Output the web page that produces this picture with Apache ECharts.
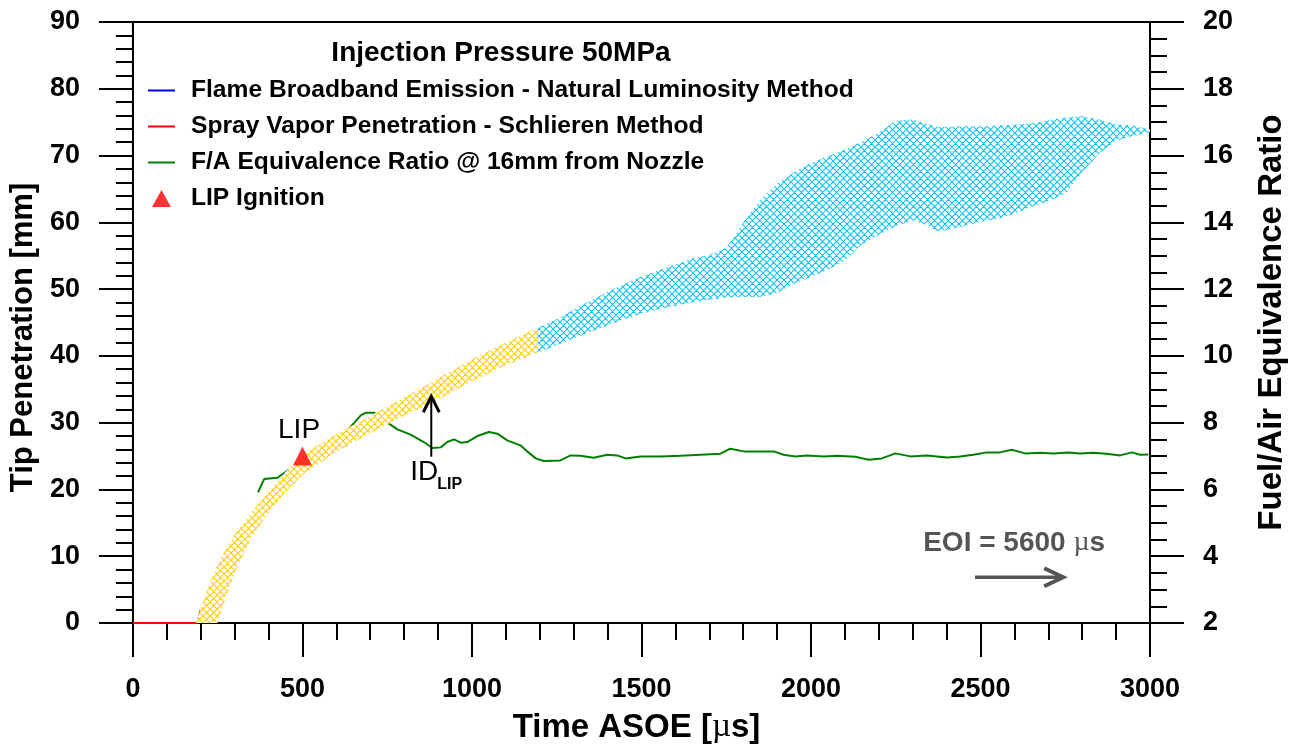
<!DOCTYPE html>
<html><head><meta charset="utf-8">
<script src="https://cdn.jsdelivr.net/npm/echarts@6/dist/echarts.min.js"></script>
<style>html,body{margin:0;padding:0;background:#fff}#c{width:1299px;height:749px}</style>
</head><body><div id="c"></div><script>
// ---------- data ----------
const sprayTime = [0, 190, 200];
const sprayMm   = [0, 0, 2];

const yellowTime  = [186, 200, 225, 250, 275, 300, 350, 400, 450, 500, 600, 700, 800, 900, 1000, 1100, 1195];
const yellowUpper = [0, 2.2, 5.8, 8.8, 11.2, 13.2, 16.6, 19.6, 22.6, 25.2, 28.3, 31.0, 33.8, 36.6, 39.5, 42.0, 44.2];
const yellowLower = [0, 0, 0, 0, 4.0, 7.5, 12.8, 16.5, 19.6, 22.2, 25.6, 28.4, 31.0, 33.4, 36.2, 38.6, 40.5];

const cyanTime  = [1195,1250,1300,1350,1400,1450,1500,1550,1600,1650,1700,1750,1780,1800,1850,1900,1950,2000,2050,2100,2150,2200,2250,2300,2340,2370,2400,2450,2500,2550,2600,2650,2700,2750,2800,2850,2900,2950,3000];
const cyanUpper = [44.2,45.5,47.0,48.3,49.6,50.8,51.9,52.8,53.7,54.6,55.1,56.2,58.3,60.0,63.3,65.8,67.5,68.9,69.9,70.9,72.1,73.4,75.2,75.4,74.8,74.3,74.3,74.4,74.4,74.5,74.6,74.8,75.3,75.7,75.9,75.4,74.7,74.5,73.9];
const cyanLower = [40.5,41.6,42.6,43.6,44.5,45.5,46.3,47.0,47.5,48.0,48.4,48.7,48.8,48.8,48.8,49.4,50.8,51.8,52.9,54.3,56.7,58.1,59.4,60.3,59.6,58.7,58.8,59.4,60.1,60.5,61.3,62.3,63.2,64.2,67.5,70.3,72.2,72.9,73.5];

const greenTime = [369,387,426,466,480,583,633,672,687,711,751,780,819,858,883,908,927,947,967,986,1016,1050,1075,1104,1143,1163,1188,1212,1261,1291,1320,1359,1399,1428,1453,1497,1556,1615,1674,1733,1762,1802,1851,1890,1919,1954,1988,2037,2077,2131,2170,2209,2249,2293,2342,2401,2440,2479,2519,2558,2592,2632,2676,2715,2759,2794,2833,2872,2912,2946,2971,2995];
const greenPhi  = [5.91,6.31,6.35,6.63,6.73,7.42,7.77,8.22,8.30,8.30,8.00,7.80,7.64,7.42,7.24,7.26,7.42,7.50,7.40,7.42,7.60,7.72,7.67,7.47,7.32,7.14,6.93,6.85,6.87,7.02,7.01,6.95,7.04,7.02,6.93,6.99,6.99,7.01,7.04,7.07,7.22,7.14,7.14,7.14,7.04,6.99,7.02,6.99,7.01,6.98,6.89,6.93,7.08,6.99,7.02,6.96,6.99,7.04,7.11,7.11,7.19,7.08,7.10,7.08,7.11,7.08,7.10,7.07,7.02,7.11,7.04,7.05];

const lipPoint = [500, 25];

const names = {
  flame: 'Flame Broadband Emission - Natural Luminosity Method',
  spray: 'Spray Vapor Penetration - Schlieren Method',
  fa: 'F/A Equivalence Ratio @ 16mm from Nozzle',
  lip: 'LIP Ignition'
};
const chartTitle = 'Injection Pressure 50MPa';
const eoiText = 'EOI = 5600 ';

// ---------- styling helpers ----------
const FONT = "'Liberation Sans', Arial, Helvetica, sans-serif";
const SERIF = "'Liberation Serif', 'DejaVu Serif', serif";
const LINE_ICON = 'path://M0,0L0.01,0L0,0.01Z M0,17L0.01,17L0,16.99Z M0,7.5L27,7.5L27,9.5L0,9.5Z';
const TRI_ICON = 'path://M0,0L0.01,0L0,0.01Z M27,0L26.99,0L27,0.01Z M4,17L23,17L13.5,0Z';

function hatch(color) {
  const s = 7, c = document.createElement('canvas');
  c.width = s; c.height = s;
  const g = c.getContext('2d');
  g.fillStyle = '#fff'; g.fillRect(0, 0, s, s);
  g.strokeStyle = color; g.lineWidth = 1.1;
  g.beginPath();
  for (let k = -1; k <= 1; k++) {
    g.moveTo(k * s - 1, -1); g.lineTo(k * s + s + 1, s + 1);
    g.moveTo(k * s + s + 1, -1); g.lineTo(k * s - 1, s + 1);
  }
  g.stroke();
  return { image: c, repeat: 'repeat' };
}

function band(times, lo, hi, fill) {
  return {
    type: 'custom', silent: true, z: 3,
    data: times.map((t, i) => [t, lo[i], hi[i]]),
    encode: { x: 0, y: [1, 2] },
    renderItem(params, api) {
      if (params.dataIndex !== 0) return null;
      const pts = [];
      for (let i = 0; i < times.length; i++) pts.push(api.coord([times[i], hi[i]]));
      for (let i = times.length - 1; i >= 0; i--) pts.push(api.coord([times[i], lo[i]]));
      return { type: 'polygon', shape: { points: pts }, style: { fill: fill, stroke: null } };
    }
  };
}

const axisCommon = {
  splitLine: { show: false },
  axisLine: { show: true, onZero: false, lineStyle: { color: '#000', width: 2 } },
  axisTick: { show: true, length: 34, lineStyle: { color: '#000', width: 2 } },
  axisLabel: { fontSize: 27, fontWeight: 'bold', color: '#000', fontFamily: FONT, margin: 53, formatter: v => String(v) }
};

const chart = echarts.init(document.getElementById('c'));
const option = {
  animation: false,
  backgroundColor: '#fff',
  grid: { left: 132, right: 149, top: 22, bottom: 124, show: true, borderColor: '#000', borderWidth: 2, backgroundColor: 'transparent' },
  legend: {
    data: [
      { name: names.flame, icon: LINE_ICON },
      { name: names.spray, icon: LINE_ICON },
      { name: names.fa, icon: LINE_ICON },
      { name: names.lip, icon: TRI_ICON }
    ],
    orient: 'vertical', left: 148, top: 78, padding: 0,
    itemWidth: 27, itemHeight: 17, itemGap: 11,
    selectedMode: false,
    textStyle: { fontSize: 24.6, fontWeight: 'bold', color: '#000', fontFamily: FONT, padding: [0, 0, 0, 11] }
  },
  xAxis: Object.assign({}, axisCommon, {
    type: 'value', min: 0, max: 3000, interval: 500,
    minorTick: { show: true, splitNumber: 5, length: 17, lineStyle: { color: '#000', width: 2 } },
    name: '{a|Time ASOE [}{b|\u00b5}{a|s]}',
    nameLocation: 'middle', nameGap: 88,
    nameTextStyle: { padding: [0, 10, 0, 0], rich: {
      a: { fontSize: 33, fontWeight: 'bold', color: '#000', fontFamily: FONT },
      b: { fontSize: 33, fontWeight: 'normal', color: '#000', fontFamily: SERIF }
    } }
  }),
  yAxis: [
    Object.assign({}, axisCommon, {
      type: 'value', min: 0, max: 90, interval: 10, position: 'left',
      minorTick: { show: true, splitNumber: 5, length: 17, lineStyle: { color: '#000', width: 2 } },
      name: 'Tip Penetration [mm]', nameLocation: 'middle', nameGap: 92, nameRotate: 90,
      nameTextStyle: { fontSize: 31, fontWeight: 'bold', color: '#000', fontFamily: FONT, padding: [0, 30, 0, 0] }
    }),
    Object.assign({}, axisCommon, {
      type: 'value', min: 2, max: 20, interval: 2, position: 'right',
      minorTick: { show: true, splitNumber: 4, length: 17, lineStyle: { color: '#000', width: 2 } },
      name: 'Fuel/Air Equivalence Ratio', nameLocation: 'middle', nameGap: 105, nameRotate: 90,
      nameTextStyle: { fontSize: 33, fontWeight: 'bold', color: '#000', fontFamily: FONT }
    })
  ],
  series: [
    { name: names.flame, type: 'line', data: [], symbol: 'none', color: '#0000ff', lineStyle: { width: 2, color: '#0000ff' } },
    { name: names.spray, type: 'line', data: sprayTime.map((t, i) => [t, sprayMm[i]]), symbol: 'none', color: '#ff0000', lineStyle: { width: 2, color: '#ff0000' }, z: 2 },
    { name: names.fa, type: 'line', yAxisIndex: 1, data: greenTime.map((t, i) => [t, greenPhi[i]]), symbol: 'none', color: '#008000', lineStyle: { width: 2, color: '#008000' }, z: 2 },
    band(yellowTime, yellowLower, yellowUpper, hatch('#ffcc00')),
    band(cyanTime, cyanLower, cyanUpper, hatch('#0cc2f6')),
    { name: names.lip, type: 'scatter', data: [lipPoint], symbol: 'triangle', symbolSize: 19, symbolKeepAspect: true, color: '#ff0000', itemStyle: { color: '#ff0000' }, z: 6 }
  ]
};
chart.setOption(option);

// ---------- annotations positioned through the axes ----------
const px = (t, v) => chart.convertToPixel({ gridIndex: 0 }, [t, v]);
const lipLbl = px(490, 28.8);
const idBot = px(880, 24.9), idTip = px(880, 34.1);
const eoiPos = px(2331, 12.0);
const eoiA = px(2484, 6.85), eoiB = px(2744, 6.85);

chart.setOption({
  graphic: [
    { type: 'text', x: 501, y: 53, z: 10,
      style: { text: chartTitle, align: 'center', verticalAlign: 'middle', font: "bold 28px " + FONT, fill: '#000' } },
    { type: 'text', x: lipLbl[0], y: lipLbl[1], z: 10,
      style: { text: 'LIP', align: 'center', verticalAlign: 'middle', font: "28px " + FONT, fill: '#000' } },
    { type: 'line', z: 10, shape: { x1: idBot[0], y1: idBot[1], x2: idTip[0], y2: idTip[1] + 2 }, style: { stroke: '#000', lineWidth: 2 } },
    { type: 'polyline', z: 10, shape: { points: [[idTip[0] - 8, idTip[1] + 17], [idTip[0], idTip[1] + 1], [idTip[0] + 8, idTip[1] + 17]] }, style: { stroke: '#000', lineWidth: 3, fill: null } },
    { type: 'text', x: idBot[0] - 21, y: idBot[1] + 30, z: 10,
      style: { text: 'ID', align: 'left', verticalAlign: 'bottom', font: "28px " + FONT, fill: '#000' } },
    { type: 'text', x: idBot[0] + 6, y: idBot[1] + 36, z: 10,
      style: { text: 'LIP', align: 'left', verticalAlign: 'bottom', font: "bold 16px " + FONT, fill: '#000' } },
    { type: 'text', x: eoiPos[0], y: eoiPos[1], z: 10,
      style: { text: '{a|' + eoiText + '}{b|\u00b5}{a|s}', align: 'left', verticalAlign: 'middle',
        rich: { a: { font: "bold 28px " + FONT, fill: '#555' }, b: { font: "28px " + SERIF, fill: '#555' } } } },
    { type: 'line', z: 10, shape: { x1: eoiA[0], y1: eoiA[1], x2: eoiB[0] - 2, y2: eoiB[1] }, style: { stroke: '#555', lineWidth: 3.5 } },
    { type: 'polyline', z: 10, shape: { points: [[eoiB[0] - 19, eoiB[1] - 9], [eoiB[0], eoiB[1]], [eoiB[0] - 19, eoiB[1] + 9]] }, style: { stroke: '#555', lineWidth: 4, fill: null } }
  ]
});
</script></body></html>
